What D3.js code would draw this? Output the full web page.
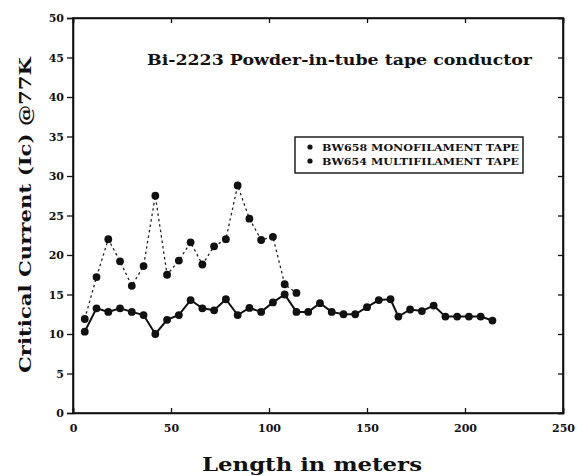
<!DOCTYPE html>
<html>
<head>
<meta charset="utf-8">
<script src="https://cdn.jsdelivr.net/npm/d3@7"></script>
<style>
  body { margin: 0; background: #fff; }
  text { font-family: "DejaVu Serif", serif; font-weight: bold; fill: #111; }
</style>
</head>
<body>
<div class="chart"></div>
<script>
// data
var multiLength = [6, 12, 18, 24, 30, 36, 42, 48, 54, 60, 66, 72, 78, 84, 90, 96, 102, 108,
  114, 120, 126, 132, 138, 144, 150, 156, 162, 166, 172, 178, 184, 190, 196, 202, 208, 214];
var multiIc = [10.3, 13.25, 12.8, 13.25, 12.8, 12.4, 10.0, 11.8, 12.4, 14.3, 13.25, 13.0, 14.4, 12.4,
  13.3, 12.8, 14.0, 15.0, 12.8, 12.8, 13.9, 12.8, 12.5, 12.5, 13.4, 14.3, 14.4, 12.2, 13.1, 12.9,
  13.6, 12.2, 12.2, 12.2, 12.2, 11.7];

var monoLength = [6, 12, 18, 24, 30, 36, 42, 48, 54, 60, 66, 72, 78, 84, 90, 96, 102, 108, 114];
var monoIc = [11.9, 17.2, 22.0, 19.2, 16.1, 18.6, 27.5, 17.5, 19.3, 21.6, 18.8, 21.1, 22.0, 28.8,
  24.6, 21.9, 22.3, 16.3, 15.2];

var xTicks = [0, 50, 100, 150, 200, 250];
var yTicks = [0, 5, 10, 15, 20, 25, 30, 35, 40, 45, 50];
var legendLabels = ["BW658 MONOFILAMENT TAPE", "BW654 MULTIFILAMENT TAPE"];

var svgWidth = 577;
var svgHeight = 476;

var margin = { top: 18, right: 14, bottom: 63, left: 73 };
var chartWidth = svgWidth - margin.left - margin.right;
var chartHeight = svgHeight - margin.top - margin.bottom;

var svg = d3.select(".chart")
  .append("svg")
  .attr("width", svgWidth)
  .attr("height", svgHeight);

var chartGroup = svg.append("g")
  .attr("transform", `translate(${margin.left}, ${margin.top})`);

var x = d3.scaleLinear().domain([0, 250]).range([0, chartWidth]);
var y = d3.scaleLinear().domain([0, 50]).range([chartHeight, 0]);

// frame
chartGroup.append("rect")
  .attr("width", chartWidth)
  .attr("height", chartHeight)
  .attr("fill", "none")
  .attr("stroke", "#111")
  .attr("stroke-width", 1.6);

// left axis, ticks outward
var leftAxis = d3.axisLeft(y).tickValues(yTicks).tickSize(6).tickPadding(3);
var yAxis = chartGroup.append("g").call(leftAxis);

// bottom axis, ticks inward
var bottomAxis = d3.axisBottom(x).tickValues(xTicks).tickSize(-5).tickPadding(11);
var xAxis = chartGroup.append("g")
  .attr("transform", `translate(0, ${chartHeight})`)
  .call(bottomAxis);

// mirrored ticks top and right, inward
chartGroup.append("g")
  .call(d3.axisTop(x).tickValues(xTicks).tickSize(-5).tickFormat(""));
chartGroup.append("g")
  .attr("transform", `translate(${chartWidth}, 0)`)
  .call(d3.axisRight(y).tickValues(yTicks).tickSize(-5).tickFormat(""));

chartGroup.selectAll(".domain").attr("stroke", "#111").attr("stroke-width", 1.6);
chartGroup.selectAll(".tick line").attr("stroke", "#111").attr("stroke-width", 1.3);
chartGroup.selectAll(".tick text")
  .style("font-family", "'DejaVu Serif', serif")
  .style("font-weight", "bold")
  .style("font-size", "11px")
  .attr("fill", "#111");

// series
var monoData = monoLength.map((d, i) => ({ len: d, ic: monoIc[i] }));
var multiData = multiLength.map((d, i) => ({ len: d, ic: multiIc[i] }));

var line = d3.line().x(d => x(d.len)).y(d => y(d.ic));

chartGroup.append("path")
  .datum(monoData)
  .attr("d", line)
  .attr("fill", "none")
  .attr("stroke", "#222")
  .attr("stroke-width", 1.3)
  .attr("stroke-dasharray", "2.5,3");

chartGroup.append("path")
  .datum(multiData)
  .attr("d", line)
  .attr("fill", "none")
  .attr("stroke", "#111")
  .attr("stroke-width", 2);

chartGroup.selectAll("circle.mono")
  .data(monoData)
  .enter()
  .append("circle")
  .attr("class", "mono")
  .attr("cx", d => x(d.len))
  .attr("cy", d => y(d.ic))
  .attr("r", 3.9)
  .attr("fill", "#111");

chartGroup.selectAll("circle.multi")
  .data(multiData)
  .enter()
  .append("circle")
  .attr("class", "multi")
  .attr("cx", d => x(d.len))
  .attr("cy", d => y(d.ic))
  .attr("r", 3.9)
  .attr("fill", "#111");

// title inside plot
svg.append("text")
  .attr("x", 147)
  .attr("y", 65)
  .attr("textLength", 385)
  .attr("lengthAdjust", "spacingAndGlyphs")
  .style("font-size", "14px")
  .text("Bi-2223 Powder-in-tube tape conductor");

// legend
var legend = svg.append("g").attr("transform", "translate(295, 137)");
legend.append("rect")
  .attr("width", 228)
  .attr("height", 36)
  .attr("fill", "#fff")
  .attr("stroke", "#111")
  .attr("stroke-width", 1.4);

legendLabels.forEach(function(label, i) {
  legend.append("circle")
    .attr("cx", 15)
    .attr("cy", 10 + i * 14)
    .attr("r", 2.6)
    .attr("fill", "#111");
  legend.append("text")
    .attr("x", 27)
    .attr("y", 13.5 + i * 14)
    .attr("textLength", 197)
    .attr("lengthAdjust", "spacingAndGlyphs")
    .style("font-size", "9px")
    .text(label);
});

// axis titles
svg.append("text")
  .attr("x", 202)
  .attr("y", 471)
  .attr("textLength", 220)
  .attr("lengthAdjust", "spacingAndGlyphs")
  .style("font-size", "18px")
  .text("Length in meters");

svg.append("text")
  .attr("transform", "translate(31, 373) rotate(-90)")
  .attr("x", 0)
  .attr("y", 0)
  .attr("textLength", 316)
  .attr("lengthAdjust", "spacingAndGlyphs")
  .style("font-size", "17px")
  .text("Critical Current (Ic) @77K");
</script>
</body>
</html>
